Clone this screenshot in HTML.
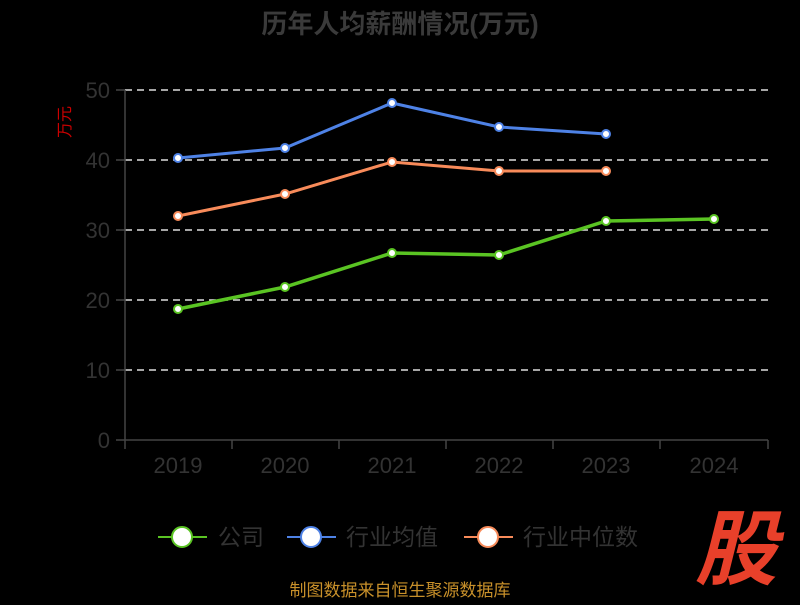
<!DOCTYPE html>
<html><head><meta charset="utf-8"><style>
html,body{margin:0;padding:0;background:#000;}
svg text{font-family:"Liberation Sans","Noto Sans CJK SC",sans-serif;}
</style></head><body>
<svg width="800" height="600" viewBox="0 0 800 600" xmlns="http://www.w3.org/2000/svg">
<rect width="800" height="600" fill="#000"/>
<text x="400" y="33" text-anchor="middle" font-size="26" font-weight="bold" fill="#3a3a3a">历年人均薪酬情况(万元)</text>
<text x="0" y="0" transform="translate(70,122) rotate(-90)" text-anchor="middle" font-size="16" fill="#cc0000">万元</text>
<g stroke="#ddd" stroke-width="1.5" stroke-dasharray="7,5">
<line x1="125" y1="90" x2="768" y2="90"/>
<line x1="125" y1="160" x2="768" y2="160"/>
<line x1="125" y1="230" x2="768" y2="230"/>
<line x1="125" y1="300" x2="768" y2="300"/>
<line x1="125" y1="370" x2="768" y2="370"/>
</g>
<g stroke="#444" stroke-width="1.5">
<line x1="125" y1="90" x2="125" y2="440"/>
<line x1="116" y1="90" x2="125" y2="90"/><line x1="116" y1="160" x2="125" y2="160"/><line x1="116" y1="230" x2="125" y2="230"/><line x1="116" y1="300" x2="125" y2="300"/><line x1="116" y1="370" x2="125" y2="370"/><line x1="116" y1="440" x2="125" y2="440"/>
<line x1="125" y1="440" x2="768" y2="440"/>
<line x1="125" y1="440" x2="125" y2="449"/><line x1="232" y1="440" x2="232" y2="449"/><line x1="339" y1="440" x2="339" y2="449"/><line x1="446" y1="440" x2="446" y2="449"/><line x1="553" y1="440" x2="553" y2="449"/><line x1="660" y1="440" x2="660" y2="449"/><line x1="768" y1="440" x2="768" y2="449"/>
</g>
<g font-size="22" fill="#333" text-anchor="end">
<text x="110" y="98">50</text><text x="110" y="168">40</text><text x="110" y="238">30</text><text x="110" y="308">20</text><text x="110" y="378">10</text><text x="110" y="448">0</text>
</g>
<g font-size="22" fill="#333" text-anchor="middle">
<text x="178" y="473">2019</text><text x="285" y="473">2020</text><text x="392" y="473">2021</text><text x="499" y="473">2022</text><text x="606" y="473">2023</text><text x="714" y="473">2024</text>
</g>
<polyline fill="none" stroke="#4e82e6" stroke-width="3" points="178,158 285,148 392,103 499,127 606,134"/>
<polyline fill="none" stroke="#f88b5a" stroke-width="3" points="178,216 285,194 392,162 499,171 606,171"/>
<polyline fill="none" stroke="#5ac423" stroke-width="3.5" points="178,309 285,287 392,253 499,255 606,221 714,219"/>
<g fill="#fff" stroke="#4e82e6" stroke-width="2"><circle cx="178" cy="158" r="4"/><circle cx="285" cy="148" r="4"/><circle cx="392" cy="103" r="4"/><circle cx="499" cy="127" r="4"/><circle cx="606" cy="134" r="4"/></g>
<g fill="#fff" stroke="#f88b5a" stroke-width="2"><circle cx="178" cy="216" r="4"/><circle cx="285" cy="194" r="4"/><circle cx="392" cy="162" r="4"/><circle cx="499" cy="171" r="4"/><circle cx="606" cy="171" r="4"/></g>
<g fill="#fff" stroke="#5ac423" stroke-width="2"><circle cx="178" cy="309" r="4"/><circle cx="285" cy="287" r="4"/><circle cx="392" cy="253" r="4"/><circle cx="499" cy="255" r="4"/><circle cx="606" cy="221" r="4"/><circle cx="714" cy="219" r="4"/></g>
<g stroke-width="2">
<line x1="158" y1="537" x2="207" y2="537" stroke="#5ac423"/><circle cx="182" cy="537" r="10" fill="#fff" stroke="#5ac423"/>
<line x1="287" y1="537" x2="336" y2="537" stroke="#4e82e6"/><circle cx="311" cy="537" r="10" fill="#fff" stroke="#4e82e6"/>
<line x1="464" y1="537" x2="513" y2="537" stroke="#f88b5a"/><circle cx="488" cy="537" r="10" fill="#fff" stroke="#f88b5a"/>
</g>
<g font-size="23" fill="#333">
<text x="218" y="545">公司</text><text x="346" y="545">行业均值</text><text x="523" y="545">行业中位数</text>
</g>
<text x="400" y="596" text-anchor="middle" font-size="17" fill="#c8902a">制图数据来自恒生聚源数据库</text>
<text x="736" y="578" text-anchor="middle" font-size="82" font-weight="bold" font-style="italic" fill="#e8402a">股</text>
</svg>
</body></html>
